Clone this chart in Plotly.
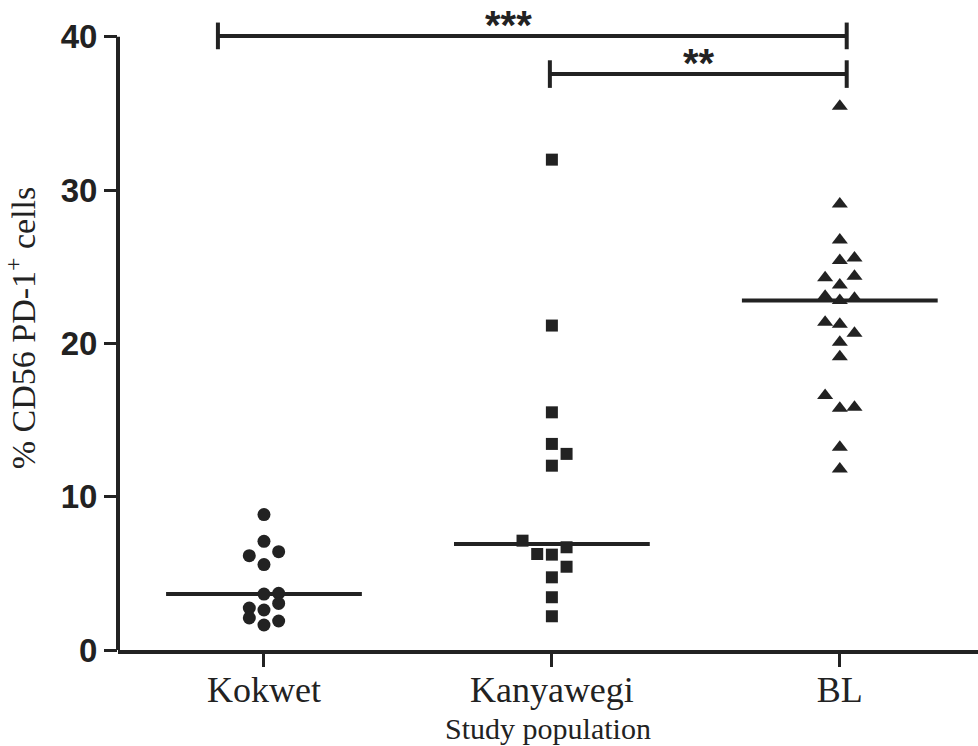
import plotly.graph_objects as go

categories = ["Kokwet", "Kanyawegi", "BL"]

kokwet_vals = [8.83, 7.09, 6.15, 6.41, 5.57, 3.65, 3.70, 3.04, 2.74, 2.61, 2.09, 1.89, 1.63]
kokwet_cols = [0, 0, -1, 1, 0, 0, 1, 1, -1, 0, -1, 1, 0]

kanyawegi_vals = [31.98, 21.16, 15.50, 13.44, 12.79, 12.02, 7.13, 6.70, 6.26, 6.22, 5.43, 4.74, 3.44, 2.20]
kanyawegi_cols = [0, 0, 0, 0, 1, 0, -2, 1, -1, 0, 1, 0, 0, 0]

bl_vals = [35.47, 29.09, 26.74, 25.40, 25.57, 24.27, 24.38, 23.81, 23.07, 22.79, 22.94,
           21.38, 21.24, 20.66, 20.07, 19.13, 16.59, 15.77, 15.83, 13.22, 11.81]
bl_cols = [0, 0, 0, 0, 1, -1, 1, 0, -1, 0, 1, -1, 0, 1, 0, 0, -1, 0, 1, 0, 0]

medians = [3.65, 6.92, 22.79]

y_ticks = [0, 10, 20, 30, 40]

sig_labels = ["***", "**"]

step = 0.051
ink = "#222222"

fig = go.Figure()

groups = [
    (0, kokwet_vals, kokwet_cols, "circle", 13),
    (1, kanyawegi_vals, kanyawegi_cols, "square", 12),
    (2, bl_vals, bl_cols, "triangle-up", 14),
]
for idx, vals, cols, sym, sz in groups:
    fig.add_trace(go.Scatter(
        x=[idx + c * step for c in cols], y=vals, mode="markers",
        marker=dict(symbol=sym, size=sz, color=ink, line=dict(width=0)),
        showlegend=False, hoverinfo="y"))

# median lines
for i, m in enumerate(medians):
    fig.add_shape(type="line", xref="x", yref="y", x0=i - 0.34, x1=i + 0.34,
                  y0=m, y1=m, line=dict(color=ink, width=4), layer="above")

# y axis line (only up to 40)
fig.add_shape(type="line", xref="paper", yref="y", x0=0, x1=0, y0=0, y1=40,
              line=dict(color=ink, width=4))

# significance brackets
brackets = [(-0.16, 2.024, 40.05, 0.87, sig_labels[0], 0.85, 40.75),
            (0.993, 2.024, 37.56, 0.9, sig_labels[1], 1.51, 38.3)]
for x0, x1, yb, cap, lab, tx, ty in brackets:
    fig.add_shape(type="line", xref="x", yref="y", x0=x0, x1=x1, y0=yb, y1=yb,
                  line=dict(color=ink, width=4))
    for xc in (x0, x1):
        fig.add_shape(type="line", xref="x", yref="y", x0=xc, x1=xc,
                      y0=yb - cap, y1=yb + cap, line=dict(color=ink, width=4))
    fig.add_annotation(x=tx, y=ty, xref="x", yref="y", text=lab, showarrow=False,
                       font=dict(family="Liberation Sans", size=40, color=ink, weight="bold"),
                       yanchor="middle")

fig.update_layout(
    width=978, height=746,
    margin=dict(l=118, r=0, t=6, b=96),
    paper_bgcolor="white", plot_bgcolor="white",
    showlegend=False,
    xaxis=dict(
        range=[-0.507, 2.48], tickmode="array", tickvals=[0, 1, 2], ticktext=categories,
        showgrid=False, zeroline=False, showline=True, linecolor=ink, linewidth=4,
        ticks="outside", ticklen=13, tickwidth=3, tickcolor=ink, automargin=False,
        ticklabelstandoff=-8,
        tickfont=dict(family="Liberation Serif", size=36, color="#222"),
        title=dict(text="Study population", standoff=10,
                   font=dict(family="Liberation Serif", size=30, color="#222")),
    ),
    yaxis=dict(
        range=[0, 42], tickmode="array", tickvals=y_ticks, automargin=False,
        showgrid=False, zeroline=False, showline=False,
        ticks="outside", ticklen=13, tickwidth=3, tickcolor=ink,
        tickfont=dict(family="Liberation Sans", size=33, color="#222", weight="bold"),
        title=dict(text="% CD56 PD-1<sup>+</sup> cells", standoff=22,
                   font=dict(family="Liberation Serif", size=34, color="#222")),
    ),
)

fig.write_html("out.html")
